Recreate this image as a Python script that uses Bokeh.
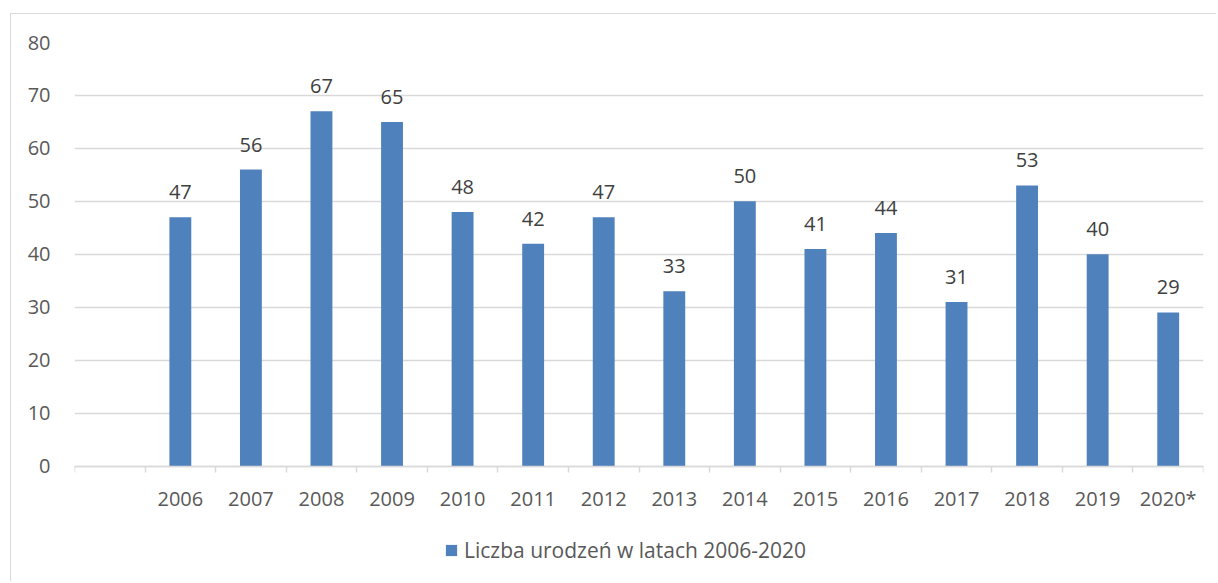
from bokeh.plotting import figure
from bokeh.models import (ColumnDataSource, Range1d, LinearAxis,
                          FixedTicker, LabelSet, Legend, LegendItem)
from bokeh.core.properties import value
from bokeh.embed import file_html
from bokeh.resources import INLINE

years = ["2006", "2007", "2008", "2009", "2010", "2011", "2012", "2013",
         "2014", "2015", "2016", "2017", "2018", "2019", "2020*"]
births = [47, 56, 67, 65, 48, 42, 47, 33, 50, 41, 44, 31, 53, 40, 29]
series_name = "Liczba urodzeń w latach 2006-2020"
y_ticks = [0, 10, 20, 30, 40, 50, 60, 70, 80]

FONT = "Open Sans"
GRID = "#d9d9d9"
BAR = "#4f81bd"

# layout (pixels)
H = 568
TOP = 28
BOTTOM = 10
VALUE_PX = 423.5          # height of the 0..80 value band
frame_h = H - TOP - BOTTOM
y_min = -(frame_h - VALUE_PX) * (y_ticks[-1] - y_ticks[0]) / VALUE_PX

# one empty category slot precedes the years
n_slots = len(years) + 1
centers = [i + 1.5 for i in range(len(years))]
src = ColumnDataSource(dict(x=centers, year=years, births=births,
                            label=[str(v) for v in births],
                            base=[0] * len(years)))

p = figure(x_range=Range1d(0, n_slots), y_range=Range1d(y_min, y_ticks[-1]),
           width=1206, height=H, output_backend="svg", toolbar_location=None,
           x_axis_location=None, min_border_left=63, min_border_right=14,
           min_border_top=TOP, min_border_bottom=BOTTOM)
p.styles = {"border-left": "1.5px solid #d9d9d9", "border-top": "1.5px solid #d9d9d9",
            "margin-left": "10px", "margin-top": "13px"}
p.outline_line_color = None
p.background_fill_color = "white"

# category axis line at zero, tick marks at category boundaries
tick_axis = LinearAxis(ticker=FixedTicker(ticks=list(range(n_slots + 1)), minor_ticks=[]),
                       fixed_location=0,
                       major_label_text_font_size="0px", major_label_standoff=0,
                       axis_line_color=GRID, axis_line_width=1.5,
                       major_tick_line_color=GRID, major_tick_line_width=1.5,
                       major_tick_out=6, major_tick_in=0,
                       minor_tick_line_color=None)
p.add_layout(tick_axis, "below")

year_labels = LabelSet(x="x", y="base", text="year", source=src,
                       text_align="center", text_baseline="alphabetic", y_offset=-40,
                       text_font=value(FONT), text_font_size=value("20px"),
                       text_color="#595959")
p.add_layout(year_labels)

p.yaxis.ticker = FixedTicker(ticks=y_ticks)
p.yaxis.axis_line_color = None
p.yaxis.major_tick_line_color = None
p.yaxis.major_tick_out = 0
p.yaxis.major_tick_in = 0
p.yaxis.minor_tick_line_color = None
p.yaxis.major_label_text_font = FONT
p.yaxis.major_label_text_font_size = "20px"
p.yaxis.major_label_text_color = "#595959"
p.yaxis.major_label_standoff = 24

p.xgrid.visible = False
p.ygrid.grid_line_color = GRID
p.ygrid.grid_line_width = 1.5

bars = p.vbar(x="x", top="births", width=0.31, source=src,
              fill_color=BAR, line_color=None)

labels = LabelSet(x="x", y="births", text="label", source=src,
                  text_align="center", text_baseline="alphabetic", y_offset=18,
                  text_font=value(FONT), text_font_size=value("20px"),
                  text_color="#404040")
p.add_layout(labels)

legend = Legend(items=[LegendItem(label=series_name, renderers=[bars])],
                location=(370, 8), orientation="horizontal",
                glyph_width=14, glyph_height=14, label_standoff=6,
                label_text_font=FONT, label_text_font_size="21px",
                label_text_color="#595959", border_line_color=None,
                background_fill_alpha=0, padding=0, margin=0, spacing=0)
p.add_layout(legend)

open("out.html", "w").write(file_html(p, INLINE))
